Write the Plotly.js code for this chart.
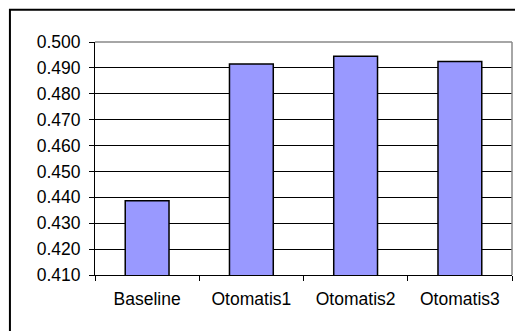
<!DOCTYPE html>
<html>
<head>
<meta charset="utf-8">
<script src="https://cdn.plot.ly/plotly-3.0.1.min.js"></script>
<style>html,body{margin:0;padding:0;background:#fff;}#chart{width:515px;height:331px;}</style>
</head>
<body>
<div id="chart"></div>
<script>
var categories = ["Baseline", "Otomatis1", "Otomatis2", "Otomatis3"];
var values = [0.4387, 0.4915, 0.4945, 0.4925];
var yTickValues = [0.410, 0.420, 0.430, 0.440, 0.450, 0.460, 0.470, 0.480, 0.490, 0.500];

var trace = {
  type: "bar",
  x: categories,
  y: values,
  marker: {color: "#9999FF", line: {color: "#000000", width: 1.5}},
  hoverinfo: "none"
};

var font = {family: "Liberation Sans, Arial, sans-serif", size: 17.5, color: "#000"};

var layout = {
  width: 515, height: 331,
  margin: {l: 95, r: 3, t: 42, b: 56, pad: 0},
  paper_bgcolor: "#fff", plot_bgcolor: "#fff",
  showlegend: false,
  bargap: 0.58,
  font: font,
  xaxis: {
    type: "category",
    showline: true, linecolor: "#000", linewidth: 1,
    ticks: "outside", ticklen: 5, tickcolor: "#000", tickwidth: 1,
    tickson: "boundaries",
    ticklabelstandoff: 8,
    showgrid: false, zeroline: false,
    tickfont: font
  },
  yaxis: {
    range: [0.410, 0.500],
    tickvals: yTickValues,
    tickformat: ".3f",
    showline: true, linecolor: "#000", linewidth: 1,
    ticks: "outside", ticklen: 5, tickcolor: "#000", tickwidth: 1,
    ticklabelstandoff: 5,
    showgrid: true, gridcolor: "#000", gridwidth: 1,
    zeroline: false,
    tickfont: font
  },
  shapes: [
    {type: "line", xref: "paper", yref: "paper", x0: 0, x1: 1, y0: 1, y1: 1, line: {color: "#888", width: 1.5}},
    {type: "line", xref: "paper", yref: "paper", x0: 1, x1: 1, y0: 0, y1: 1, line: {color: "#888", width: 1.5}},
    {type: "rect", xref: "paper", yref: "paper", x0: -0.204, x1: 1.2, y0: -0.4, y1: 1.138, line: {color: "#000", width: 2}, fillcolor: "rgba(0,0,0,0)"}
  ]
};

Plotly.newPlot("chart", [trace], layout, {staticPlot: true, displayModeBar: false});
</script>
</body>
</html>
